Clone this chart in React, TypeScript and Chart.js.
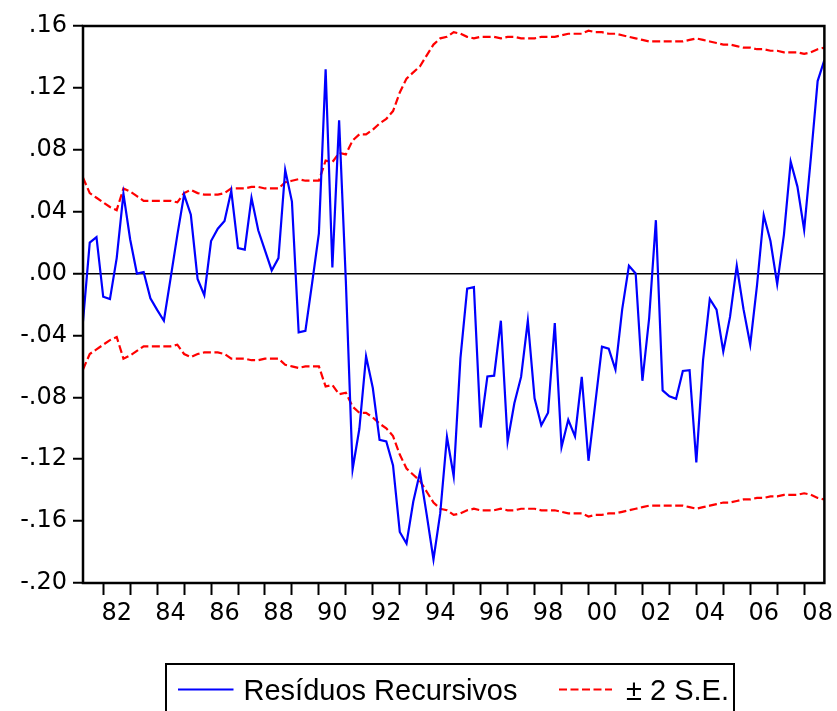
import React, { useEffect, useRef } from 'react';
import { Chart, registerables } from 'chart.js';

Chart.register(...registerables);

// Quarterly sample: 1981Q2 .. 2008Q4
const startYear = 1981;
const startQuarter = 2;

const residuals = [
  -0.031, 0.020, 0.0235, -0.015, -0.0165, 0.010, 0.0515, 0.022, 0.000, 0.001,
  -0.016, -0.0235, -0.0305, -0.003, 0.025, 0.051, 0.038, -0.0035, -0.014, 0.021,
  0.029, 0.034, 0.0535, 0.0165, 0.0155, 0.049, 0.028, 0.015, 0.002, 0.010,
  0.067, 0.0465, -0.038, -0.037, -0.006, 0.026, 0.132, 0.004, 0.099, -0.005,
  -0.1265, -0.1005, -0.0535, -0.074, -0.1075, -0.1085, -0.124, -0.167, -0.1745, -0.1475,
  -0.1285, -0.156, -0.1848, -0.155, -0.1055, -0.131, -0.0548, -0.0098, -0.0088, -0.0995,
  -0.0665, -0.066, -0.0305, -0.1085, -0.0838, -0.0668, -0.0305, -0.0806, -0.098, -0.090,
  -0.032, -0.1122, -0.0945, -0.1052, -0.0667, -0.121, -0.0842, -0.0473, -0.0485, -0.062,
  -0.0231, 0.005, 0.000, -0.0693, -0.0289, 0.0345, -0.0755, -0.0793, -0.081, -0.063,
  -0.0625, -0.122, -0.056, -0.0164, -0.0233, -0.0503, -0.028, 0.005, -0.023, -0.0459,
  -0.0078, 0.0377, 0.021, -0.0068, 0.0252, 0.0723, 0.0562, 0.0282, 0.075, 0.1244,
  0.138,
];

// two standard errors (band is +/- these values)
const twoSE = [
  0.062, 0.052, 0.049, 0.046, 0.043, 0.041, 0.055, 0.053, 0.050, 0.047,
  0.047, 0.047, 0.047, 0.047, 0.046, 0.052, 0.054, 0.052, 0.051, 0.051,
  0.051, 0.052, 0.055, 0.055, 0.055, 0.056, 0.056, 0.055, 0.055, 0.055,
  0.059, 0.060, 0.061, 0.060, 0.060, 0.060, 0.073, 0.072, 0.078, 0.077,
  0.086, 0.090, 0.090, 0.093, 0.097, 0.100, 0.105, 0.117, 0.126, 0.130,
  0.134, 0.141, 0.148, 0.152, 0.153, 0.156, 0.155, 0.153, 0.152, 0.153,
  0.153, 0.153, 0.152, 0.153, 0.153, 0.152, 0.152, 0.152, 0.153, 0.153,
  0.153, 0.154, 0.155, 0.155, 0.155, 0.157, 0.156, 0.156, 0.155, 0.155,
  0.154, 0.153, 0.152, 0.151, 0.150, 0.150, 0.150, 0.150, 0.150, 0.150,
  0.151, 0.152, 0.151, 0.150, 0.149, 0.148, 0.148, 0.147, 0.146, 0.146,
  0.145, 0.145, 0.144, 0.144, 0.143, 0.143, 0.143, 0.142, 0.143, 0.145,
  0.146,
];

const tickYears = [
  1982, 1983, 1984, 1985, 1986, 1987, 1988, 1989, 1990, 1991, 1992, 1993, 1994, 1995,
  1996, 1997, 1998, 1999, 2000, 2001, 2002, 2003, 2004, 2005, 2006, 2007, 2008,
];
const labelYears = [1982, 1984, 1986, 1988, 1990, 1992, 1994, 1996, 1998, 2000, 2002, 2004, 2006, 2008];
const xTickLabels = ['82', '84', '86', '88', '90', '92', '94', '96', '98', '00', '02', '04', '06', '08'];

const yTickValues = [-0.2, -0.16, -0.12, -0.08, -0.04, 0, 0.04, 0.08, 0.12, 0.16];
const yTickLabels = ['-.20', '-.16', '-.12', '-.08', '-.04', '.00', '.04', '.08', '.12', '.16'];

const legendLabels = ['Resíduos Recursivos', '± 2 S.E.'];

const qIndex = (year: number, quarter: number) => (year - startYear) * 4 + (quarter - startQuarter);

const yearStartTicks = tickYears.map((y) => qIndex(y, 1));
const labelTicks = labelYears.map((y) => qIndex(y, 3));
const labelMap = new Map<number, string>();
labelTicks.forEach((v, i) => labelMap.set(v, xTickLabels[i]));
const xTickValues = [...yearStartTicks, ...labelTicks].sort((a, b) => a - b);

const framePlugin = {
  id: 'frame',
  afterDatasetsDraw(chart: any) {
    const { ctx, chartArea } = chart;
    const { left, top, right, bottom } = chartArea;
    ctx.save();
    ctx.strokeStyle = '#000';
    ctx.lineWidth = 2.5;
    ctx.strokeRect(left, top, right - left, bottom - top);
    ctx.restore();
  },
};

const tickFont = { family: 'DejaVu Sans', size: 24 };

export default function App() {
  const canvasRef = useRef<HTMLCanvasElement | null>(null);

  useEffect(() => {
    if (!canvasRef.current) return;
    const chart = new Chart(canvasRef.current, {
      type: 'line',
      data: {
        datasets: [
          {
            label: legendLabels[0],
            data: residuals.map((v, i) => ({ x: i, y: v })),
            borderColor: '#0000ff',
            borderWidth: 2.2,
            pointRadius: 0,
            tension: 0,
            fill: false,
          },
          {
            label: legendLabels[1],
            data: twoSE.map((v, i) => ({ x: i, y: v })),
            borderColor: '#ff0000',
            borderWidth: 2.2,
            borderDash: [8, 3.5],
            pointRadius: 0,
            tension: 0,
            fill: false,
          },
          {
            label: legendLabels[1] + ' (lower)',
            data: twoSE.map((v, i) => ({ x: i, y: -v })),
            borderColor: '#ff0000',
            borderWidth: 2.2,
            borderDash: [8, 3.5],
            pointRadius: 0,
            tension: 0,
            fill: false,
          },
        ],
      },
      options: {
        responsive: false,
        animation: false,
        devicePixelRatio: 1,
        layout: { padding: { left: 0, right: 10, top: 26, bottom: 68 } },
        plugins: { legend: { display: false }, tooltip: { enabled: false } },
        scales: {
          x: {
            type: 'linear',
            min: 0,
            max: residuals.length - 1,
            afterBuildTicks: (s: any) => {
              s.ticks = xTickValues.map((v) => ({ value: v }));
            },
            afterFit: (s: any) => {
              s.height = 60;
            },
            ticks: {
              autoSkip: false,
              maxRotation: 0,
              minRotation: 0,
              padding: 4,
              color: '#000',
              font: tickFont,
              callback: (v: any) => labelMap.get(Number(v)) ?? '',
            },
            grid: {
              drawOnChartArea: false,
              tickLength: 12,
              tickWidth: 2,
              tickColor: (c: any) =>
                c.tick && labelMap.has(c.tick.value) ? 'rgba(0,0,0,0)' : '#000',
            },
            border: { display: false },
          },
          y: {
            min: -0.2,
            max: 0.16,
            afterBuildTicks: (s: any) => {
              s.ticks = yTickValues.map((v) => ({ value: v }));
            },
            afterFit: (s: any) => {
              s.width = 83;
            },
            ticks: {
              padding: 6,
              color: '#000',
              font: tickFont,
              callback: (_v: any, i: number) => yTickLabels[i],
            },
            grid: {
              color: (c: any) =>
                c.tick && Math.abs(c.tick.value) < 1e-9 ? '#000' : 'rgba(0,0,0,0)',
              lineWidth: 1.5,
              tickColor: '#000',
              tickLength: 10,
              tickWidth: 2,
            },
            border: { display: false },
          },
        },
      },
      plugins: [framePlugin],
    } as any);
    return () => chart.destroy();
  }, []);

  const legendFont = "'Liberation Sans', Arial, sans-serif";
  return (
    <div
      style={{
        position: 'absolute',
        left: 0,
        top: 0,
        width: 837,
        height: 711,
        overflow: 'hidden',
        background: '#fff',
      }}
    >
      <canvas ref={canvasRef} width={837} height={711} style={{ display: 'block' }} />
      <div
        style={{
          position: 'absolute',
          left: 165,
          top: 663,
          width: 570,
          height: 60,
          border: '2px solid #000',
          boxSizing: 'border-box',
        }}
      />
      <svg
        width={837}
        height={711}
        style={{ position: 'absolute', left: 0, top: 0, pointerEvents: 'none' }}
      >
        <line x1={178} y1={689.5} x2={233.5} y2={689.5} stroke="#0000ff" strokeWidth={2} />
        <line
          x1={559}
          y1={689.5}
          x2={612}
          y2={689.5}
          stroke="#ff0000"
          strokeWidth={2}
          strokeDasharray="8 3.5"
        />
      </svg>
      <div
        style={{
          position: 'absolute',
          left: 243.5,
          top: 674,
          fontFamily: legendFont,
          fontSize: 29,
          lineHeight: '32px',
          whiteSpace: 'nowrap',
          color: '#000',
        }}
      >
        {legendLabels[0]}
      </div>
      <div
        style={{
          position: 'absolute',
          left: 626,
          top: 674,
          fontFamily: legendFont,
          fontSize: 29,
          lineHeight: '32px',
          whiteSpace: 'nowrap',
          color: '#000',
        }}
      >
        {legendLabels[1]}
      </div>
    </div>
  );
}
